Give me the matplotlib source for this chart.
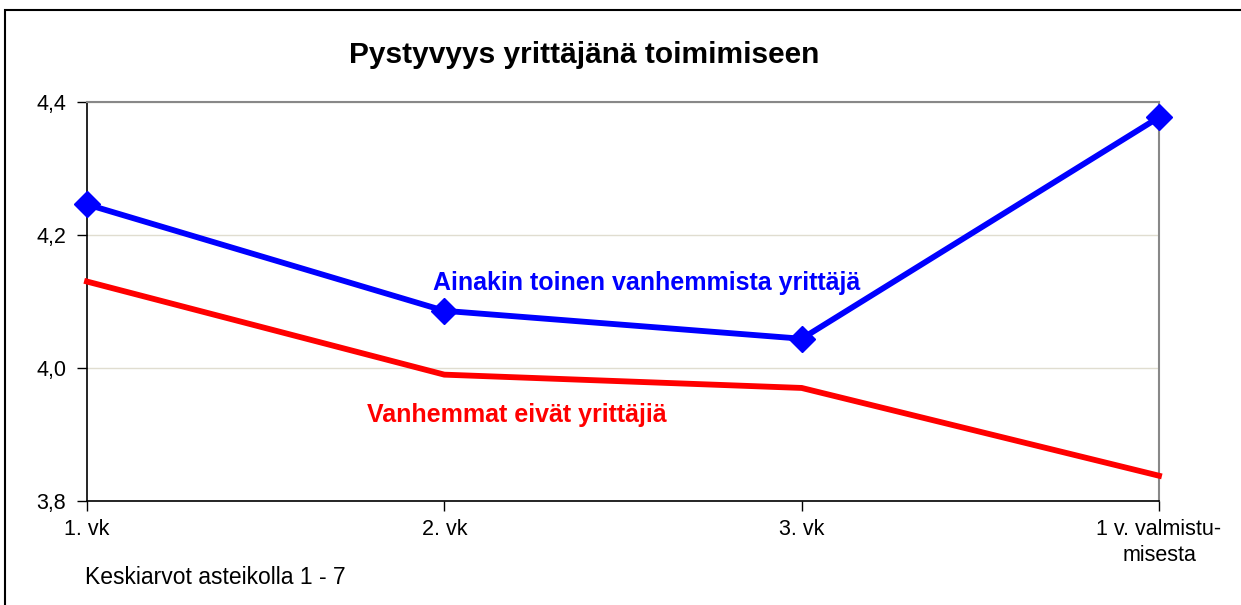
import matplotlib.pyplot as plt
from matplotlib.patches import Rectangle
from matplotlib.ticker import FuncFormatter

categories = ["1. vk", "2. vk", "3. vk", "1 v. valmistu-\nmisesta"]
yrittaja_vanhempi = [4.246, 4.086, 4.044, 4.377]
ei_yrittaja = [4.130, 3.990, 3.970, 3.838]

plt.rcParams['font.family'] = ['Liberation Sans', 'DejaVu Sans']

fig = plt.figure(figsize=(12.41, 6.05), dpi=100)
ax = fig.add_axes([87 / 1241, 1 - 501 / 605, (1159 - 87) / 1241, (501 - 102) / 605])

# frame around the whole chart
fig.patches.append(Rectangle((5 / 1241, -0.05), 1.1, 1 - 10 / 605 + 0.05,
                             transform=fig.transFigure, fill=False,
                             edgecolor='black', linewidth=1.5))

x = list(range(len(categories)))
ax.plot(x, ei_yrittaja, color='#ff0000', linewidth=4.2, solid_joinstyle='miter',
        zorder=3, clip_on=False)
ax.plot(x, yrittaja_vanhempi, color='#0000ff', linewidth=4.2, marker='D',
        markersize=13, solid_joinstyle='miter', zorder=4, clip_on=False)

ax.set_xlim(0, 3)
ax.set_ylim(3.8, 4.4)
ax.set_yticks([3.8, 4.0, 4.2, 4.4])
ax.yaxis.set_major_formatter(FuncFormatter(lambda v, p: f"{v:.1f}".replace('.', ',')))
ax.set_xticks(x)
ax.set_xticklabels(categories, linespacing=1.3)
ax.grid(axis='y', color='#e0ddd0', linewidth=1)
ax.set_axisbelow(True)

for s in ['top', 'right']:
    ax.spines[s].set_color('#888888')
    ax.spines[s].set_linewidth(1.5)
for s in ['left', 'bottom']:
    ax.spines[s].set_color('black')
    ax.spines[s].set_linewidth(1.2)

ax.tick_params(axis='both', labelsize=15.5, length=7, width=1, direction='out')
ax.tick_params(axis='x', pad=6)
ax.tick_params(axis='y', pad=8)

fig.text(0.471, 1 - 55 / 605, "Pystyvyys yrittäjänä toimimiseen", ha='center', va='center',
         fontsize=21.5, fontweight='bold')
ax.text(1.567, 4.128, "Ainakin toinen vanhemmista yrittäjä", ha='center', va='center',
        fontsize=18, fontweight='bold', color='#0000ff')
ax.text(0.784, 3.929, "Vanhemmat eivät yrittäjiä", ha='left', va='center',
        fontsize=18, fontweight='bold', color='#ff0000')
fig.text(85 / 1241, 1 - 578 / 605, "Keskiarvot asteikolla 1 - 7", ha='left', va='center',
         fontsize=16.5)

fig.savefig("out.png", dpi=100)
